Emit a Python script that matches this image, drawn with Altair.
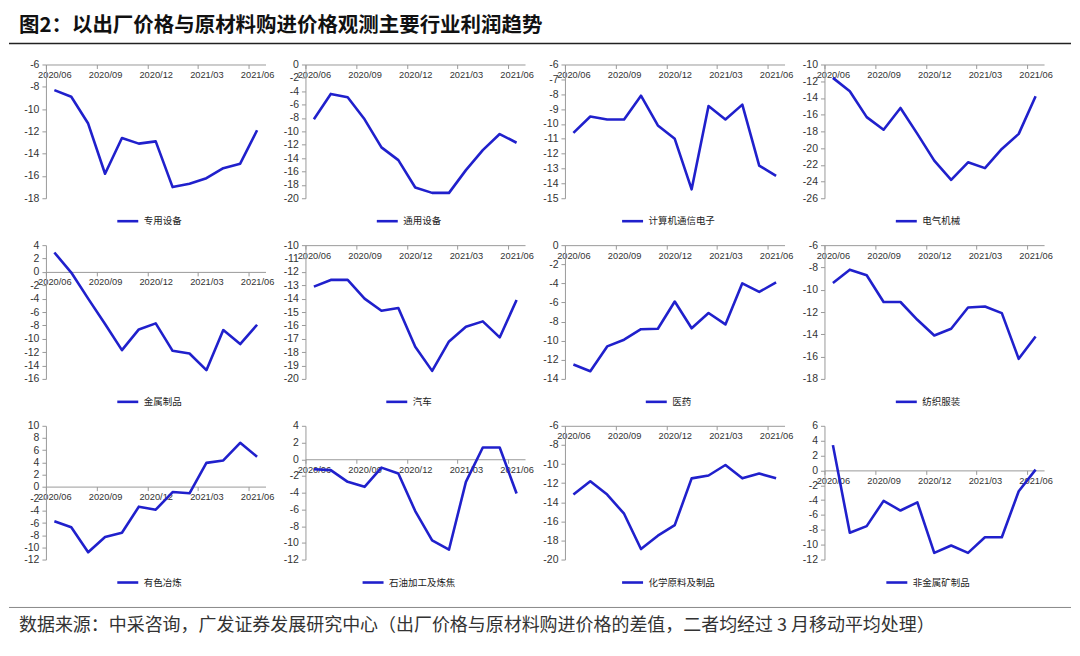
import json
import altair as alt
import pandas as pd

# ---------------- data ----------------
months = ["2020/06", "2020/07", "2020/08", "2020/09", "2020/10", "2020/11", "2020/12",
          "2021/01", "2021/02", "2021/03", "2021/04", "2021/05", "2021/06"]

title_text = "图2：以出厂价格与原材料购进价格观测主要行业利润趋势"
source_text = "数据来源：中采咨询，广发证券发展研究中心（出厂价格与原材料购进价格的差值，二者均经过 3 月移动平均处理）"

names = ["专用设备", "通用设备", "计算机通信电子", "电气机械",
         "金属制品", "汽车", "医药", "纺织服装",
         "有色冶炼", "石油加工及炼焦", "化学原料及制品", "非金属矿制品"]

special_equipment = [-8.3, -8.9, -11.3, -15.8, -12.6, -13.1, -12.9, -17.0, -16.7, -16.2, -15.3, -14.9, -11.9]
general_equipment = [-8.2, -4.4, -4.9, -8.2, -12.4, -14.3, -18.4, -19.2, -19.2, -15.8, -12.8, -10.4, -11.7]
computer_comm = [-10.6, -9.5, -9.7, -9.7, -8.1, -10.1, -11.0, -14.4, -8.8, -9.7, -8.7, -12.8, -13.5]
electrical_machinery = [-11.6, -13.2, -16.3, -17.8, -15.2, -18.3, -21.5, -23.8, -21.7, -22.4, -20.1, -18.3, -13.8]
metal_products = [2.9, -0.1, -4.0, -7.8, -11.7, -8.6, -7.7, -11.8, -12.2, -14.7, -8.7, -10.8, -7.9]
automobile = [-13.1, -12.6, -12.6, -14.0, -14.9, -14.7, -17.6, -19.4, -17.2, -16.1, -15.7, -16.9, -14.1]
pharma = [-12.5, -13.2, -10.6, -9.9, -8.8, -8.75, -5.9, -8.7, -7.1, -8.3, -4.0, -4.9, -3.9]
textile_apparel = [-9.4, -8.2, -8.7, -11.1, -11.1, -12.7, -14.1, -13.5, -11.6, -11.5, -12.1, -16.2, -14.2]
nonferrous = [-5.7, -6.7, -10.8, -8.3, -7.6, -3.3, -3.8, -0.9, -1.1, 3.9, 4.3, 7.2, 4.9]
petroleum_coking = [-1.2, -1.3, -2.7, -3.3, -1.0, -1.7, -6.2, -9.7, -10.8, -2.7, 1.4, 1.4, -4.1]
chemicals = [-13.2, -11.8, -13.2, -15.2, -18.9, -17.5, -16.4, -11.5, -11.2, -10.1, -11.5, -11.0, -11.5]
nonmetal_minerals = [3.4, -8.4, -7.5, -4.1, -5.4, -4.3, -11.1, -10.1, -11.1, -9.0, -9.0, -2.8, 0.1]

series = [special_equipment, general_equipment, computer_comm, electrical_machinery,
          metal_products, automobile, pharma, textile_apparel,
          nonferrous, petroleum_coking, chemicals, nonmetal_minerals]

# y-axis ranges (min, max, step) as printed on each panel
y_min = [-18, -20, -15, -26, -16, -20, -14, -18, -12, -12, -20, -12]
y_max = [-6, 0, -6, -10, 4, -10, 0, -6, 10, 4, -6, 6]
y_step = [2, 2, 1, 2, 2, 1, 2, 2, 2, 2, 2, 2]

# ---------------- styling ----------------
BLUE = "#2020CC"
W, H = 220, 134
STEP = W / 13.0
AXIS_GRAY = "#9a9a9a"
TEXT_COLOR = "#333333"
NUM_FONT = "Liberation Sans"
CJK_FONT = "Noto Sans CJK SC"
Y_EXT = 37

label_list = json.dumps(months[0::3])


def panel(name, vals, lo, hi, step):
    df = pd.DataFrame({"i": list(range(len(months))), "month": months, "v": vals, "s": name})
    zero_from_bottom = H * (min(hi, 0) - lo) / (hi - lo)
    n = len(name)
    legend_w = 20 + 4 + 9.5 * n
    x_axis = alt.Axis(
        values=[0, 3, 6, 9, 12],
        labelExpr=f"{label_list}[datum.value / 3]",
        tickOffset=-STEP / 2, labelOffset=STEP / 2,
        offset=-zero_from_bottom, orient="bottom",
        grid=False, title=None, domainColor=AXIS_GRAY, tickColor=AXIS_GRAY,
        tickSize=4, labelFont=NUM_FONT, labelFontSize=9.3, labelColor=TEXT_COLOR,
        labelFlush=False, labelOverlap=False, labelPadding=2,
    )
    y_axis = alt.Axis(
        values=list(range(lo, hi + 1, step)),
        labelExpr="datum.value + ''",
        grid=False, title=None, domainColor=AXIS_GRAY, tickColor=AXIS_GRAY,
        tickSize=4, labelFont=NUM_FONT, labelFontSize=10.5, labelColor=TEXT_COLOR,
        labelFlush=False, labelOverlap=False, minExtent=Y_EXT, maxExtent=Y_EXT, labelPadding=3,
    )
    return alt.Chart(df).mark_line(strokeWidth=2.6, strokeJoin="round").encode(
        x=alt.X("i:Q", scale=alt.Scale(domain=[-0.5, 12.5], nice=False, zero=False), axis=x_axis),
        y=alt.Y("v:Q", scale=alt.Scale(domain=[lo, hi], nice=False, zero=False), axis=y_axis),
        color=alt.Color("s:N", scale=alt.Scale(domain=[name], range=[BLUE]),
                        legend=alt.Legend(title=None, orient="none", legendX=(W / 2 - 9) - legend_w / 2,
                                          legendY=H + 11, symbolType="stroke", symbolSize=441,
                                          symbolStrokeWidth=2.6, labelFont=CJK_FONT, labelFontSize=9.5,
                                          labelColor="#222222", direction="horizontal")),
        order="i:Q",
    ).properties(width=W, height=H)


panels = [panel(nm, vals, lo, hi, st) for nm, vals, lo, hi, st in zip(names, series, y_min, y_max, y_step)]
grid = alt.concat(*panels, columns=4, spacing={"row": 47, "column": 40}, bounds="flush").resolve_scale(
    color="independent").resolve_legend(color="independent")

FULL_W = 1064 - Y_EXT
hdr_df = pd.DataFrame({"t": [title_text]})
header = alt.layer(
    alt.Chart(hdr_df).mark_text(align="left", baseline="middle", fontSize=20.5, fontWeight="bold",
                                font=CJK_FONT, color="#111111").encode(
        x=alt.value(10 - Y_EXT), y=alt.value(17), text="t:N"),
    alt.Chart(hdr_df).mark_rule(color="#222222", strokeWidth=1.5).encode(
        x=alt.value(-Y_EXT), x2=alt.value(FULL_W), y=alt.value(35)),
).properties(width=FULL_W, height=43)

ftr_df = pd.DataFrame({"t": [source_text]})
footer = alt.layer(
    alt.Chart(ftr_df).mark_rule(color="#888888", strokeWidth=1).encode(
        x=alt.value(-Y_EXT), x2=alt.value(FULL_W), y=alt.value(11)),
    alt.Chart(ftr_df).mark_text(align="left", baseline="middle", fontSize=18,
                                font=CJK_FONT, color="#333333").encode(
        x=alt.value(10 - Y_EXT), y=alt.value(30), text="t:N"),
).properties(width=FULL_W, height=42)

chart = alt.vconcat(header, grid, footer, spacing=8).properties(
    padding=0, background="white").configure_view(stroke=None)

chart.save("out.html", embed_options={"renderer": "svg", "actions": False})
